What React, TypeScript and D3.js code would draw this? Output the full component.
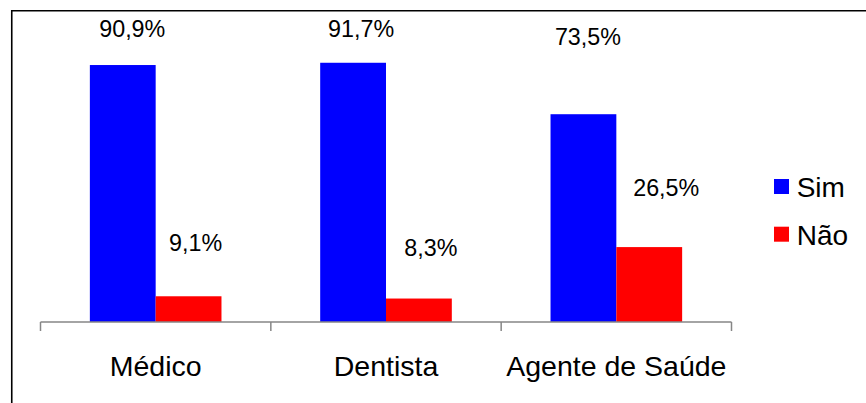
import React from "react";
import * as d3 from "d3";

// Chart data
const categories = ["Médico", "Dentista", "Agente de Saúde"];
const seriesNames = ["Sim", "Não"];
const simValues = [90.9, 91.7, 73.5];
const naoValues = [9.1, 8.3, 26.5];

// Colours per series
const seriesColors = ["#0000FF", "#FF0000"];

// Hand-placed label nudges (dx from bar centre, dy from bar top to baseline)
const labelNudge: [number, number][][] = [
  [[9.5, -28], [8, -25.7], [4.5, -69]],
  [[7, -45.3], [12, -43], [17, -51.3]],
];

const W = 866;
const H = 403;
const FONT = "'Liberation Sans', Arial, Helvetica, sans-serif";

export default function App() {
  const values = [simValues, naoValues];
  const plotLeft = 40.5;
  const plotRight = 731.5;
  const baseY = 322;
  const topY = 39.3;

  const x0 = d3.scaleBand<string>().domain(categories).range([plotLeft, plotRight]).paddingInner(0).paddingOuter(0);
  const x1 = d3.scaleBand<string>().domain(seriesNames).range([0, x0.bandwidth()]).paddingInner(0).paddingOuter(0.75);
  const y = d3.scaleLinear().domain([0, 100]).range([baseY, topY]);

  const tickXs = [...categories.map((c) => x0(c)!), plotRight];
  const fmt = (v: number) => v.toFixed(1).replace(".", ",") + "%";

  return (
    <svg width={W} height={H} style={{ position: "absolute", left: 0, top: 0, background: "#fff" }} fontFamily={FONT}>
      <rect x={0} y={0} width={W} height={H} fill="#fff" />
      {/* chart frame */}
      <path d={`M11.75,${H} V10.75 H${W}`} fill="none" stroke="#000" strokeWidth={1.6} />

      {/* bars */}
      {seriesNames.map((s, si) =>
        categories.map((c, ci) => {
          const v = values[si][ci];
          const bx = x0(c)! + x1(s)!;
          return (
            <rect key={`${s}-${c}`} x={bx} y={y(v)} width={x1.bandwidth()} height={baseY - y(v)} fill={seriesColors[si]} />
          );
        })
      )}

      {/* category axis */}
      <g stroke="#868686" strokeWidth={1.5} fill="none">
        <line x1={plotLeft} x2={plotRight} y1={baseY} y2={baseY} />
        {tickXs.map((tx, i) => (
          <line key={i} x1={tx} x2={tx} y1={baseY} y2={baseY + 9} />
        ))}
      </g>
      {categories.map((c) => (
        <text key={c} x={x0(c)! + x0.bandwidth() / 2} y={375.5} textAnchor="middle" fontSize={28.5} fill="#000">
          {c}
        </text>
      ))}

      {/* value labels */}
      {seriesNames.map((s, si) =>
        categories.map((c, ci) => {
          const v = values[si][ci];
          const cx = x0(c)! + x1(s)! + x1.bandwidth() / 2;
          const [dx, dy] = labelNudge[si][ci];
          return (
            <text key={`l-${s}-${c}`} x={cx + dx} y={y(v) + dy} textAnchor="middle" fontSize={23.3} fill="#000">
              {fmt(v)}
            </text>
          );
        })
      )}

      {/* legend */}
      {seriesNames.map((s, si) => (
        <g key={`lg-${s}`} transform={`translate(774, ${179 + si * 47.7})`}>
          <rect x={0} y={0} width={15} height={15} fill={seriesColors[si]} />
          <text x={22.7} y={18.3} fontSize={28} fill="#000">
            {s}
          </text>
        </g>
      ))}
    </svg>
  );
}
